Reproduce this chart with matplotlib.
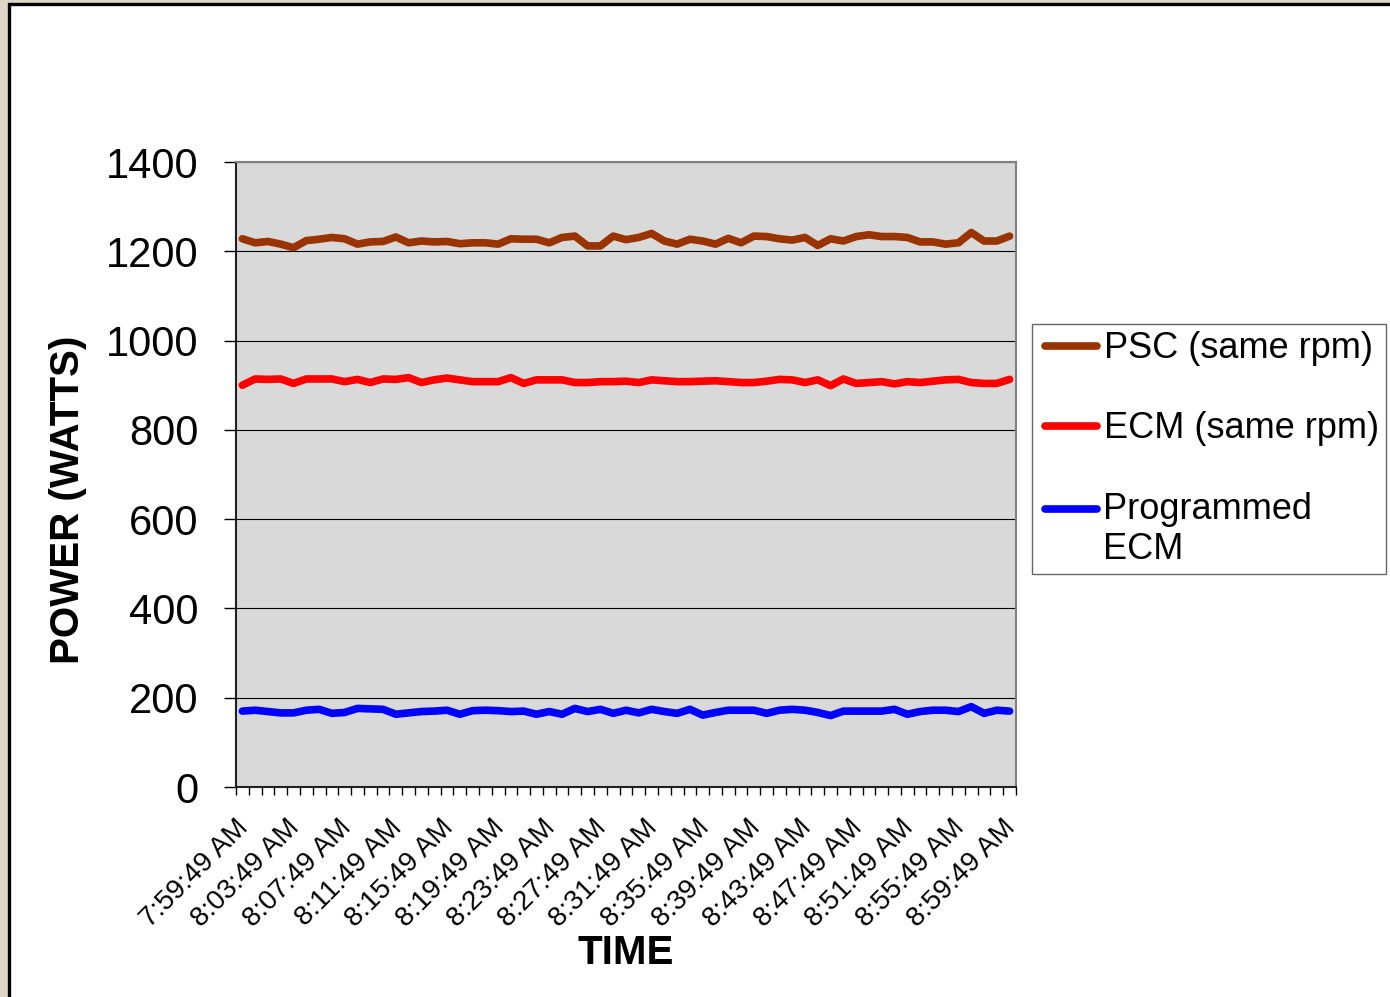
import matplotlib
matplotlib.use("Agg")
import matplotlib.pyplot as plt
from matplotlib.patches import Rectangle
from matplotlib.transforms import ScaledTranslation

plt.rcParams['font.family'] = ['Liberation Sans', 'DejaVu Sans']

# one reading per minute, 7:59:49 AM .. 8:59:49 AM
psc = [1228, 1219, 1222, 1216, 1208, 1224, 1227, 1231, 1228, 1216,
       1221, 1222, 1232, 1219, 1223, 1221, 1222, 1217, 1219, 1219,
       1216, 1228, 1227, 1227, 1219, 1231, 1234, 1212, 1212, 1234,
       1226, 1231, 1240, 1223, 1216, 1227, 1223, 1216, 1229, 1219,
       1234, 1233, 1228, 1225, 1231, 1213, 1228, 1223, 1233, 1237,
       1233, 1233, 1231, 1221, 1221, 1216, 1219, 1242, 1223, 1223,
       1234]
ecm = [900, 914, 913, 914, 904, 914, 914, 914, 908, 913,
       906, 914, 913, 917, 906, 912, 916, 912, 908, 908,
       908, 917, 904, 912, 912, 912, 906, 906, 908, 908,
       909, 906, 912, 910, 908, 908, 909, 910, 908, 906,
       906, 909, 913, 912, 906, 912, 899, 914, 904, 906,
       908, 903, 908, 906, 909, 912, 913, 906, 904, 904,
       913]
prog_ecm = [170, 172, 169, 166, 166, 172, 174, 165, 167, 176,
            175, 174, 163, 166, 169, 170, 172, 163, 171, 172,
            171, 169, 170, 163, 169, 163, 176, 169, 174, 165,
            172, 166, 174, 169, 165, 174, 161, 167, 172, 172,
            172, 165, 172, 174, 172, 167, 160, 170, 170, 170,
            170, 174, 163, 169, 172, 172, 169, 180, 165, 172,
            170]
time_labels = ["7:59:49 AM", "8:03:49 AM", "8:07:49 AM", "8:11:49 AM",
               "8:15:49 AM", "8:19:49 AM", "8:23:49 AM", "8:27:49 AM",
               "8:31:49 AM", "8:35:49 AM", "8:39:49 AM", "8:43:49 AM",
               "8:47:49 AM", "8:51:49 AM", "8:55:49 AM", "8:59:49 AM"]
label_every = 4

fig = plt.figure(figsize=(13.9, 9.97), dpi=100, facecolor='#ddd5c6')
# white slide panel with black frame, kept behind the axes
fig.patches.append(Rectangle((8.5 / 1390, -0.05), 1.2, 1 - 4.5 / 997 + 0.05,
                             transform=fig.transFigure, facecolor='white',
                             edgecolor='black', linewidth=2.4, zorder=-5))

ax = fig.add_axes([236 / 1390, 1 - 787 / 997, 780 / 1390, 625 / 997])
ax.set_facecolor('#d9d9d9')

x = list(range(len(psc)))
kw = dict(lw=5.5, solid_capstyle='round', solid_joinstyle='round')
ax.plot(x, psc, color='#993300', label='PSC (same rpm)', **kw)
ax.plot(x, ecm, color='#ff0000', label='ECM (same rpm)', **kw)
ax.plot(x, prog_ecm, color='#0000ff', label='Programmed\nECM', **kw)

ax.set_xlim(-0.5, len(psc) - 0.5)
ax.set_ylim(0, 1400)
ax.set_yticks(range(0, 1401, 200))
ax.yaxis.grid(True, color='#000000', lw=0.8)
ax.set_axisbelow(True)

ax.set_xticks(x[::label_every])
ax.set_xticklabels(time_labels, rotation=45, ha='right', rotation_mode='anchor')
ax.set_xticks([i - 0.5 for i in range(len(psc) + 1)], minor=True)
ax.tick_params(axis='x', which='major', length=0, pad=18, labelsize=20)
ax.tick_params(axis='x', which='minor', length=6, width=1, direction='out')
ax.tick_params(axis='y', length=8.6, width=1, labelsize=30, pad=18.5)
shift = ScaledTranslation(-0.07, -0.03, fig.dpi_scale_trans)
for lab in ax.get_xticklabels():
    lab.set_transform(lab.get_transform() + shift)

for s in ['top', 'right']:
    ax.spines[s].set_color('#808080')
    ax.spines[s].set_linewidth(1.5)
for s in ['left', 'bottom']:
    ax.spines[s].set_color('#202020')
    ax.spines[s].set_linewidth(1.5)

ax.set_ylabel('POWER (WATTS)', fontsize=29, fontweight='bold')
ax.yaxis.set_label_coords((87 - 236) / 780, (787 - 500) / 625)
ax.set_xlabel('TIME', fontsize=29, fontweight='bold', labelpad=1)

leg = fig.legend(loc='upper left', bbox_to_anchor=(1032 / 1390, 1 - 324 / 997),
                 fontsize=26, frameon=True, fancybox=False, handlelength=1.6,
                 handletextpad=0.18, labelspacing=1.25, borderpad=0.2,
                 borderaxespad=0)
leg.get_frame().set_edgecolor('#404040')
leg.get_frame().set_linewidth(1.0)
for i, ln in enumerate(leg.legend_handles):
    xd = list(ln.get_xdata())
    ln.set_xdata([xd[0] + 4] + xd[1:])
# put the two-line entry's handle beside its first line, as in the original
ln = leg.legend_handles[2]
ln.set_ydata([v + 15 for v in ln.get_ydata()])

fig.savefig('out.png', dpi=100, facecolor=fig.get_facecolor())
